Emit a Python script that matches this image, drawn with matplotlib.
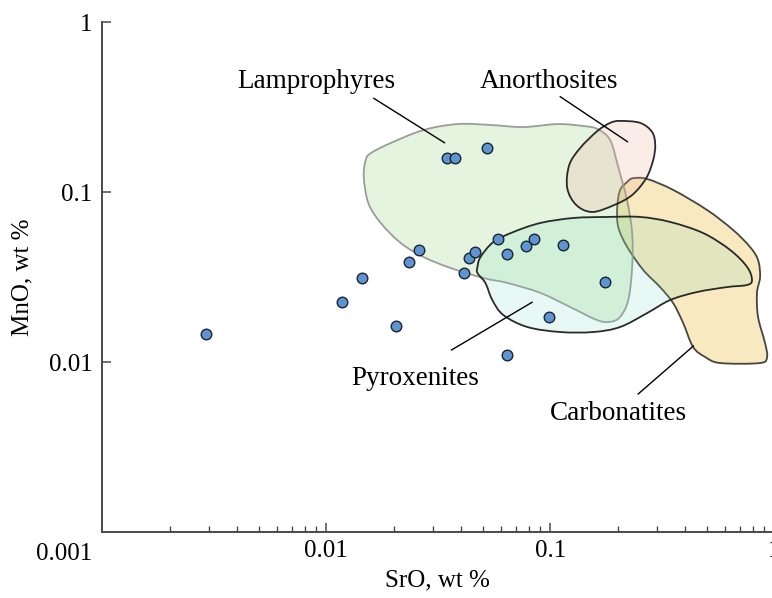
import numpy as np
import matplotlib
matplotlib.use('Agg')
import matplotlib.pyplot as plt
from matplotlib.patches import PathPatch
from matplotlib.path import Path
from matplotlib.ticker import FixedLocator, LogLocator, NullLocator

plt.rcParams['font.family'] = ['Liberation Serif', 'DejaVu Serif']

# точки (SrO, MnO), мас.%
sro = [0.0029, 0.0118, 0.0145, 0.0204, 0.0234, 0.0260, 0.0347, 0.0377, 0.0522, 0.0411,
       0.0432, 0.0463, 0.0586, 0.0638, 0.0779, 0.0842, 0.1145, 0.1746, 0.0987, 0.0639]
mno = [0.0147, 0.0225, 0.0315, 0.0164, 0.0388, 0.0458, 0.160, 0.160, 0.182, 0.0333,
       0.0408, 0.0446, 0.0533, 0.0434, 0.0483, 0.0533, 0.0490, 0.0298, 0.0184, 0.0110]

# поля пород (контуры)
lamp_x = [0.0150, 0.0158, 0.0194, 0.0272, 0.0385, 0.0540, 0.0758, 0.1075, 0.140, 0.162,
          0.185, 0.201, 0.220, 0.232, 0.232, 0.223, 0.205, 0.185, 0.162, 0.123,
          0.0903, 0.0643, 0.0503, 0.0358, 0.0272, 0.0215, 0.0175, 0.0154, 0.0147]
lamp_y = [0.155, 0.170, 0.195, 0.2325, 0.252, 0.249, 0.242, 0.252, 0.2455, 0.236,
          0.203, 0.141, 0.090, 0.0576, 0.0364, 0.0233, 0.0185, 0.0173, 0.0177, 0.0211,
          0.0256, 0.0293, 0.0313, 0.0359, 0.0416, 0.0503, 0.0660, 0.0865, 0.123]

anor_x = [0.205, 0.252, 0.285, 0.294, 0.288, 0.268, 0.232, 0.193, 0.154, 0.1306,
          0.119, 0.1215, 0.136, 0.162, 0.185]
anor_y = [0.263, 0.256, 0.226, 0.190, 0.155, 0.121, 0.0964, 0.0842, 0.0766, 0.0842,
          0.106, 0.1447, 0.1823, 0.229, 0.256]

carb_x = [0.234, 0.271, 0.354, 0.501, 0.655, 0.779, 0.846, 0.864, 0.837, 0.846,
          0.909, 0.928, 0.864, 0.573, 0.491, 0.434, 0.392, 0.3535, 0.309, 0.260,
          0.2204, 0.201, 0.199, 0.205, 0.2204]
carb_y = [0.121, 0.1197, 0.1032, 0.0787, 0.060, 0.0477, 0.040, 0.0318, 0.0256, 0.0185,
          0.0130, 0.01075, 0.0099, 0.0099, 0.01075, 0.0123, 0.0170, 0.0223, 0.0277, 0.0349,
          0.0477, 0.0625, 0.0819, 0.1032, 0.115]

pyr_x = [0.0473, 0.0488, 0.0557, 0.0684, 0.0903, 0.1266, 0.1795, 0.252, 0.343, 0.481,
         0.635, 0.756, 0.795, 0.756, 0.615, 0.452, 0.343, 0.271, 0.205, 0.1555,
         0.1108, 0.079, 0.0617, 0.0551, 0.0513, 0.0473]
pyr_y = [0.0364, 0.0416, 0.0510, 0.0584, 0.0660, 0.0706, 0.0716, 0.0716, 0.0669, 0.0576,
         0.0458, 0.0364, 0.0305, 0.0285, 0.0277, 0.0259, 0.02325, 0.0195, 0.01613, 0.01507,
         0.01507, 0.01613, 0.01897, 0.02325, 0.0293, 0.0335]

# подписи: текст, позиция текста, линия-выноска (начало, конец)
labels = ['Lamprophyres', 'Anorthosites', 'Pyroxenites', 'Carbonatites']
label_pos = [(0.00905, 0.409), (0.099, 0.409), (0.025, 0.00735), (0.201, 0.00458)]
leader_start = [(0.0163, 0.357), (0.1108, 0.365), (0.0362, 0.01181), (0.2468, 0.00651)]
leader_end = [(0.0337, 0.1957), (0.2211, 0.1984), (0.0829, 0.02254), (0.4353, 0.01247)]


def smooth_outline(xs, ys):
    # замкнутая гладкая кривая через точки контура (в лог. координатах)
    p = np.column_stack([np.log10(xs), np.log10(ys)])
    n = len(p)
    verts = [p[0]]
    codes = [Path.MOVETO]
    for i in range(n):
        a, b, c, d = p[i - 1], p[i], p[(i + 1) % n], p[(i + 2) % n]
        verts += [b + (c - a) / 6, c - (d - b) / 6, c]
        codes += [Path.CURVE4] * 3
    verts.append(p[0])
    codes.append(Path.CLOSEPOLY)
    return Path(10 ** np.array(verts), codes)


fig = plt.figure(figsize=(7.72, 5.98), dpi=100)
ax = fig.add_axes([102.3 / 772, 65.7 / 598, 672 / 772, 510 / 598])
ax.set_xscale('log')
ax.set_yscale('log')
ax.set_xlim(0.001, 1)
ax.set_ylim(0.001, 1)

# порядок: карбонатиты снизу
fields = [
    (carb_x, carb_y, (0.92, 0.75, 0.25, 0.33), (0.15, 0.15, 0.15, 0.85)),
    (lamp_x, lamp_y, (0.58, 0.82, 0.47, 0.24), (0.55, 0.55, 0.55, 0.85)),
    (pyr_x, pyr_y, (0.47, 0.86, 0.75, 0.17), (0.12, 0.12, 0.12, 0.95)),
    (anor_x, anor_y, (0.92, 0.67, 0.59, 0.22), (0.12, 0.12, 0.12, 0.95)),
]
for fx, fy, fc, ec in fields:
    ax.add_patch(PathPatch(smooth_outline(fx, fy), facecolor=fc, edgecolor=ec,
                           linewidth=1.3, zorder=2))

ax.scatter(sro, mno, s=58, facecolor='#5e94cf', edgecolor='#1c2430', linewidth=1.0, zorder=5)

for txt, pos, p0, p1 in zip(labels, label_pos, leader_start, leader_end):
    ax.plot([p0[0], p1[0]], [p0[1], p1[1]], color='black', lw=1.0, zorder=4)
    ax.text(pos[0], pos[1], txt, fontsize=19.5, ha='center', va='baseline', zorder=6)

for side in ['top', 'right']:
    ax.spines[side].set_visible(False)
for side in ['left', 'bottom']:
    ax.spines[side].set_color('#4a4a4a')
    ax.spines[side].set_linewidth(1.4)

ax.xaxis.set_major_locator(FixedLocator([0.01, 0.1, 1]))
ax.xaxis.set_minor_locator(LogLocator(base=10, subs=range(2, 10)))
ax.set_xticklabels(['0.01', '0.1', '1'])
ax.yaxis.set_major_locator(FixedLocator([0.01, 0.1, 1]))
ax.yaxis.set_minor_locator(NullLocator())
ax.set_yticklabels(['0.01', '0.1', '1'])
ax.tick_params(which='major', direction='in', length=6.5, width=1.1, color='#4a4a4a',
               labelsize=18)
ax.tick_params(which='minor', direction='in', length=4.3, width=1.0, color='#4a4a4a')
ax.tick_params(axis='x', which='major', pad=5.5)
ax.tick_params(axis='y', which='major', pad=7)

ax.annotate('0.001', xy=(0.001, 0), xycoords=('data', 'axes fraction'),
            xytext=(-38.6, -21.7), textcoords='offset pixels',
            ha='center', va='center', fontsize=18, annotation_clip=False)

ax.set_xlabel('SrO, wt %', fontsize=18)
ax.set_ylabel('MnO, wt %', fontsize=18)
ax.xaxis.set_label_coords(0.498, -0.073)
ax.yaxis.set_label_coords(-0.103, 0.5)

fig.savefig('out.png', dpi=100)
